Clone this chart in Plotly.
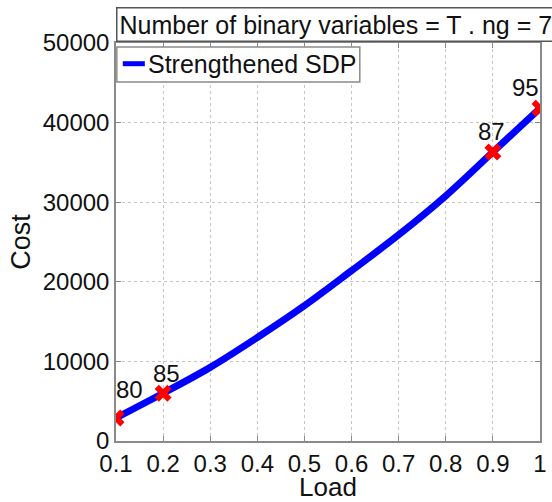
import plotly.graph_objects as go

# Cost of supplying each load level (strengthened SDP relaxation)
load = [0.1, 0.2, 0.3, 0.4, 0.5, 0.6, 0.7, 0.8, 0.9, 1.0]
cost = [2900, 6000, 9250, 13000, 17000, 21400, 25900, 30800, 36300, 41800]

# Load levels that are marked, with the number of binary variables at each
marked_load = [0.1, 0.2, 0.9, 1.0]
marked_text = ["80", "85", "87", "95"]
marked_cost = [cost[load.index(v)] for v in marked_load]

x_ticks = [0.1, 0.2, 0.3, 0.4, 0.5, 0.6, 0.7, 0.8, 0.9, 1.0]
x_tick_text = ["0.1", "0.2", "0.3", "0.4", "0.5", "0.6", "0.7", "0.8", "0.9", "1"]
y_ticks = [0, 10000, 20000, 30000, 40000, 50000]

series_name = "Strengthened SDP"
title_text = "Number of binary variables = T . ng = 7"

FONT = "Liberation Sans, Arial, Helvetica, sans-serif"
BLUE = "#0000ff"
FRAME = "#8a8a8a"

fig = go.Figure()
fig.add_trace(go.Scatter(
    x=load, y=cost, mode="lines", name=series_name, showlegend=False,
    line=dict(color=BLUE, width=7, shape="spline"),
))
fig.add_trace(go.Scatter(
    x=marked_load, y=marked_cost, mode="markers", showlegend=False,
    marker=dict(symbol="x", size=15, color="#ff0000", line=dict(width=0)),
))

# value labels beside the marked points
label_shift = [(13, 28), (3, 20), (-1, 21), (-15, 21)]
for xv, yv, t, (dx, dy) in zip(marked_load, marked_cost, marked_text, label_shift):
    fig.add_annotation(x=xv, y=yv, text=t, showarrow=False,
                       xshift=dx, yshift=dy,
                       font=dict(family=FONT, size=24, color="#111"))

# boxed title above the axes
fig.add_annotation(
    xref="paper", yref="paper", x=0, y=1, xanchor="left", yanchor="bottom",
    yshift=1, text=title_text, showarrow=False,
    font=dict(family=FONT, size=25, color="#111"),
    bordercolor="#555", borderwidth=1.5, borderpad=2, bgcolor="white",
)

# legend box in the upper-left corner of the axes
fig.add_shape(type="rect", xref="paper", yref="paper",
              x0=0.002, x1=0.575, y0=0.902, y1=0.990,
              line=dict(color=FRAME, width=1.5), fillcolor="white", layer="above")
fig.add_shape(type="line", xref="paper", yref="paper",
              x0=0.016, x1=0.068, y0=0.948, y1=0.948,
              line=dict(color=BLUE, width=5), layer="above")
fig.add_annotation(xref="paper", yref="paper", x=0.071, y=0.946,
                   xanchor="left", yanchor="middle", text=series_name,
                   showarrow=False, font=dict(family=FONT, size=25, color="#111"))

axis_common = dict(
    showline=True, linecolor=FRAME, linewidth=1.5, mirror="ticks",
    ticks="inside", ticklen=5, tickcolor=FRAME,
    showgrid=True, gridcolor="#c4c4c4", griddash="dot", gridwidth=1,
    zeroline=False, tickfont=dict(family=FONT, size=24, color="#111"),
)

fig.update_xaxes(
    range=[0.1, 1.0], tickvals=x_ticks, ticktext=x_tick_text,
    title=dict(text="Load", font=dict(family=FONT, size=26, color="#111"),
               standoff=7),
    **axis_common,
)
fig.update_yaxes(
    range=[0, 50000], tickvals=y_ticks, ticktext=[str(v) for v in y_ticks],
    title=dict(text="Cost", font=dict(family=FONT, size=27, color="#111"),
               standoff=4),
    **axis_common,
)

fig.update_layout(
    width=552, height=502,
    margin=dict(l=116, r=12, t=43, b=61, autoexpand=False),
    paper_bgcolor="white", plot_bgcolor="white",
    showlegend=False,
)

fig.write_html("out.html")
